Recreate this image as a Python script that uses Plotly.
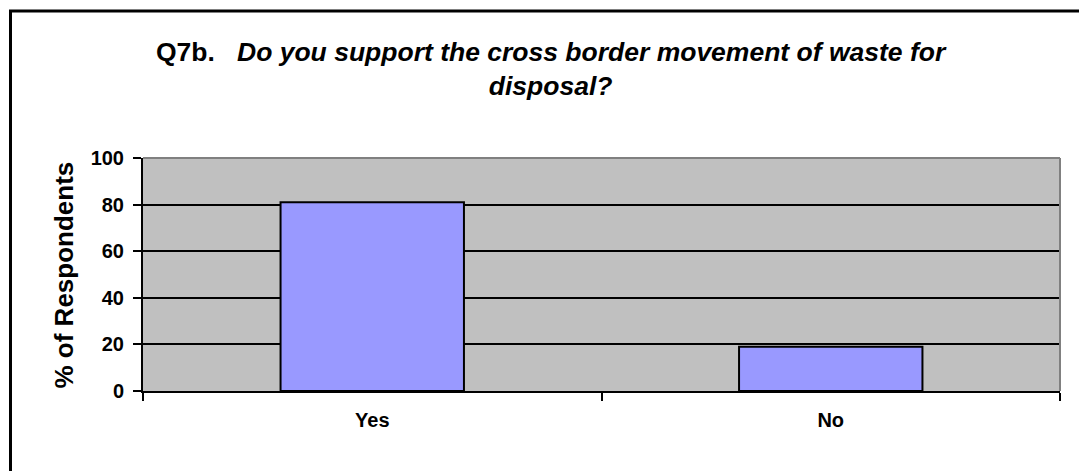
import plotly.graph_objects as go

categories = ["Yes", "No"]
values = [81, 19]
y_ticks = [0, 20, 40, 60, 80, 100]
title_line1 = "Q7b."
title_question = "Do you support the cross border movement of waste for"
title_line2 = "disposal?"
y_title = "% of Respondents"

FONT = "Liberation Sans, Arial, sans-serif"

fig = go.Figure()
fig.add_trace(go.Bar(
    x=categories, y=values, width=0.4,
    marker=dict(color="#9999FF", line=dict(color="black", width=2)),
    hoverinfo="x+y",
))

# page body has an 8px margin; the figure is offset by it
OFF = 8
W, H = 1087 - OFF, 471 - OFF
L, R, T, B = 143 - OFF, 27, 158 - OFF, 80
pw, ph = W - L - R, H - T - B

def px_x(px):
    return (px - OFF - L) / pw

def px_y(py):
    return (H - B - (py - OFF)) / ph

fig.update_layout(
    width=W, height=H,
    margin=dict(l=L, r=R, t=T, b=B),
    paper_bgcolor="white",
    plot_bgcolor="#C0C0C0",
    showlegend=False,
    font=dict(family=FONT, color="black"),
    xaxis=dict(
        type="category",
        showgrid=False, zeroline=False,
        showline=True, linecolor="black", linewidth=2,
        ticks="outside", tickson="boundaries", ticklen=8, tickwidth=2, tickcolor="black",
        tickfont=dict(family=FONT, size=20, color="black", weight="bold"),
        ticklabelstandoff=10,
    ),
    yaxis=dict(
        range=[0, 100], tickvals=y_ticks,
        showgrid=True, gridcolor="black", gridwidth=2,
        zeroline=False,
        showline=True, linecolor="black", linewidth=2,
        ticks="outside", ticklen=8, tickwidth=2, tickcolor="black",
        tickfont=dict(family=FONT, size=20, color="black", weight="bold"),
        ticklabelstandoff=5,
    ),
    shapes=[
        dict(type="line", xref="paper", yref="paper", x0=0, x1=1, y0=1, y1=1,
             line=dict(color="#808080", width=2), layer="above"),
        dict(type="line", xref="paper", yref="paper", x0=1, x1=1, y0=0, y1=1,
             line=dict(color="#808080", width=2), layer="above"),
        dict(type="rect", xref="paper", yref="paper",
             x0=px_x(10.5), x1=px_x(1100), y0=px_y(11), y1=px_y(490),
             line=dict(color="black", width=3), fillcolor="rgba(0,0,0,0)", layer="above"),
    ],
    annotations=[
        dict(xref="paper", yref="paper", x=px_x(551), y=px_y(69),
             xanchor="center", yanchor="middle", showarrow=False,
             text=f"<b>{title_line1}&nbsp;&nbsp; <i>{title_question}</i></b><br><b><i>{title_line2}</i></b>",
             font=dict(family=FONT, size=26.5, color="black")),
        dict(xref="paper", yref="paper", x=px_x(63), y=px_y(275.5),
             xanchor="center", yanchor="middle", showarrow=False, textangle=-90,
             text=f"<b>{y_title}</b>",
             font=dict(family=FONT, size=26, color="black")),
    ],
)

fig.write_html("out.html")
